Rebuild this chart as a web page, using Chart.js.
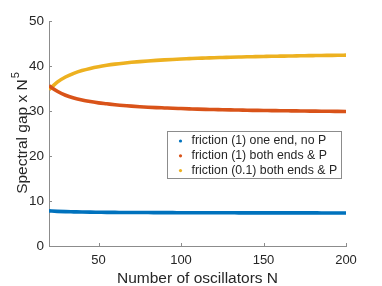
<!DOCTYPE html>
<html>
<head>
<meta charset="utf-8">
<script src="https://cdn.jsdelivr.net/npm/chart.js"></script>
<style>
  html, body { margin: 0; padding: 0; background: #fff; }
  #wrap { width: 382px; height: 286px; position: relative; }
</style>
</head>
<body>
<div id="wrap"><canvas id="chart"></canvas></div>
<script>
// number of oscillators (sampled every 5)
const oscillators = [20, 25, 30, 35, 40, 45, 50, 55, 60, 65, 70, 75, 80, 85, 90, 95, 100,
    105, 110, 115, 120, 125, 130, 135, 140, 145, 150, 155, 160, 165, 170, 175, 180, 185, 190, 195, 200];

const oneEndNoP = [7.80, 7.70, 7.63, 7.59, 7.55, 7.52, 7.50, 7.48, 7.47, 7.45, 7.44, 7.43, 7.43, 7.42, 7.41, 7.41, 7.40,
    7.40, 7.39, 7.39, 7.38, 7.38, 7.38, 7.37, 7.37, 7.37, 7.37, 7.36, 7.36, 7.36, 7.36, 7.36, 7.36, 7.35, 7.35, 7.35, 7.35];

const bothEndsP = [35.6, 34.4, 33.5, 32.9, 32.45, 32.1, 31.8, 31.6, 31.4, 31.22, 31.08, 30.96, 30.85, 30.76, 30.68, 30.60, 30.54,
    30.48, 30.42, 30.37, 30.33, 30.28, 30.24, 30.21, 30.17, 30.14, 30.11, 30.09, 30.06, 30.04, 30.02, 29.99, 29.97, 29.95, 29.94, 29.92, 29.90];

const bothEndsPLow = [34.71, 36.42, 37.56, 38.37, 38.99, 39.46, 39.84, 40.15, 40.41, 40.63, 40.82, 40.98, 41.12, 41.25, 41.36, 41.46, 41.55,
    41.63, 41.71, 41.77, 41.84, 41.89, 41.94, 41.99, 42.04, 42.08, 42.12, 42.16, 42.19, 42.22, 42.25, 42.28, 42.31, 42.34, 42.36, 42.38, 42.41];

const seriesLabels = ['friction (1) one end, no P', 'friction (1) both ends & P', 'friction (0.1) both ends & P'];
const xTicks = [50, 100, 150, 200];
const yTicks = [0, 10, 20, 30, 40, 50];

const colors = ['#0072BD', '#D95319', '#EDB120'];
const axisColor = '#8c8c8c';
const textColor = '#262626';
const fontFamily = '"Liberation Sans", Arial, sans-serif';

const toPoints = vals => vals.map((v, i) => ({ x: oscillators[i], y: v }));

// MATLAB-style inward ticks
const innerTicks = {
    id: 'innerTicks',
    afterDatasetsDraw(chart) {
        const ctx = chart.ctx;
        const { x, y } = chart.scales;
        const area = chart.chartArea;
        ctx.save();
        ctx.strokeStyle = axisColor;
        ctx.lineWidth = 1;
        ctx.beginPath();
        yTicks.forEach(v => {
            const py = Math.round(y.getPixelForValue(v)) + 0.5;
            ctx.moveTo(area.left, py);
            ctx.lineTo(area.left + 3, py);
        });
        xTicks.forEach(v => {
            const px = Math.round(x.getPixelForValue(v)) + 0.5;
            ctx.moveTo(px, area.bottom);
            ctx.lineTo(px, area.bottom - 3);
        });
        ctx.stroke();
        ctx.restore();
    }
};

// y title with a real superscript
const yTitle = {
    id: 'yTitle',
    afterDraw(chart) {
        const ctx = chart.ctx;
        const main = 'Spectral gap x N', sup = '5';
        ctx.save();
        ctx.font = '15.5px ' + fontFamily;
        const wMain = ctx.measureText(main).width;
        ctx.font = '11px ' + fontFamily;
        const wSup = ctx.measureText(sup).width;
        const total = wMain + wSup + 1;
        ctx.translate(27, 133);
        ctx.rotate(-Math.PI / 2);
        ctx.fillStyle = textColor;
        ctx.textBaseline = 'alphabetic';
        ctx.font = '15.5px ' + fontFamily;
        ctx.fillText(main, -total / 2, 0);
        ctx.font = '11px ' + fontFamily;
        ctx.fillText(sup, -total / 2 + wMain + 1, -8);
        ctx.restore();
    }
};

// boxed legend inside the plot
const boxLegend = {
    id: 'boxLegend',
    afterDraw(chart) {
        const ctx = chart.ctx;
        const left = 167.5, top = 131.5, w = 174, h = 47;
        ctx.save();
        ctx.fillStyle = '#fff';
        ctx.fillRect(left, top, w, h);
        ctx.strokeStyle = axisColor;
        ctx.lineWidth = 1;
        ctx.strokeRect(left, top, w, h);
        ctx.font = '12.3px ' + fontFamily;
        ctx.textBaseline = 'middle';
        chart.data.datasets.forEach((ds, i) => {
            const cy = top + 9.5 + i * 14.8;
            ctx.fillStyle = ds.borderColor;
            ctx.beginPath();
            ctx.arc(left + 13, cy, 1.6, 0, Math.PI * 2);
            ctx.fill();
            ctx.fillStyle = textColor;
            ctx.fillText(ds.label, left + 24, cy);
        });
        ctx.restore();
    }
};

const mkSet = (label, vals, color) => ({
    label: label,
    data: toPoints(vals),
    borderColor: color,
    backgroundColor: color,
    borderWidth: 3.6,
    pointRadius: 0,
    tension: 0.4,
    cubicInterpolationMode: 'monotone'
});

new Chart(document.getElementById('chart'), {
    type: 'line',
    data: {
        datasets: [
            mkSet(seriesLabels[0], oneEndNoP, colors[0]),
            mkSet(seriesLabels[1], bothEndsP, colors[1]),
            mkSet(seriesLabels[2], bothEndsPLow, colors[2])
        ]
    },
    options: {
        responsive: true,
        maintainAspectRatio: false,
        animation: false,
        layout: { padding: { left: 0, right: 36, top: 21, bottom: 0 } },
        plugins: {
            legend: { display: false },
            tooltip: { enabled: false }
        },
        scales: {
            x: {
                type: 'linear',
                min: 20,
                max: 200,
                afterBuildTicks: s => { s.ticks = xTicks.map(v => ({ value: v })); },
                afterFit: s => { s.height = 40; },
                grid: { display: false, drawTicks: false },
                border: { display: true, color: axisColor, width: 1 },
                ticks: { color: textColor, font: { family: fontFamily, size: 13 }, padding: 7, maxRotation: 0 },
                title: { display: true, text: 'Number of oscillators N', color: textColor,
                    font: { family: fontFamily, size: 15.5 }, padding: { top: 0, bottom: -2 } }
            },
            y: {
                min: 0,
                max: 50,
                afterBuildTicks: s => { s.ticks = yTicks.map(v => ({ value: v })); },
                afterFit: s => { s.width = 49; },
                grid: { display: false, drawTicks: false },
                border: { display: true, color: axisColor, width: 1 },
                ticks: { color: textColor, font: { family: fontFamily, size: 13.5 }, padding: 5 },
                title: { display: false }
            }
        }
    },
    plugins: [innerTicks, yTitle, boxLegend]
});
</script>
</body>
</html>
